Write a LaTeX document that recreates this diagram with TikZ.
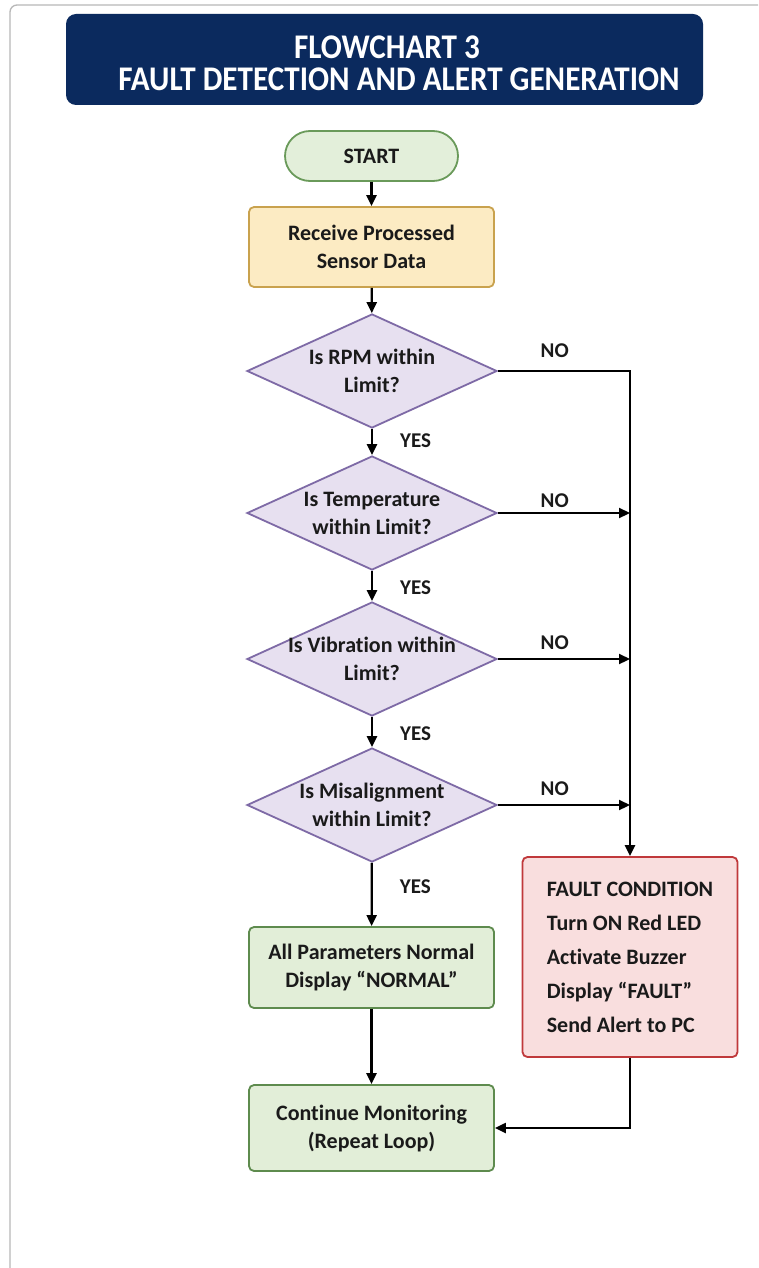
\documentclass[tikz,border=0pt]{standalone}
\usepackage{fontspec}
\setmainfont{Carlito}[Ligatures=NoCommon]
\newfontfamily\titlefont[FakeStretch=0.9]{Carlito}
\usetikzlibrary{shapes.geometric,arrows.meta}
\definecolor{navy}{HTML}{0B2A5E}
\definecolor{startfill}{HTML}{E3EFDA}
\definecolor{startdraw}{HTML}{6A9A5A}
\definecolor{yelfill}{HTML}{FCEBC3}
\definecolor{yeldraw}{HTML}{C9A24E}
\definecolor{lavfill}{HTML}{E7E0F0}
\definecolor{lavdraw}{HTML}{7E6AA6}
\definecolor{grnfill}{HTML}{E2EED8}
\definecolor{grndraw}{HTML}{5E8B4E}
\definecolor{pinkfill}{HTML}{F9DEDE}
\definecolor{pinkdraw}{HTML}{C0393B}
\definecolor{framegray}{HTML}{B8B8B8}
\definecolor{txt}{HTML}{1A1A1A}
\begin{document}
\begin{tikzpicture}[x=1pt,y=-1pt,
  body/.style={font=\bfseries\fontsize{22}{28}\selectfont, text=txt, align=center, inner sep=0pt},
  titlebox/.style={fill=navy, rounded corners=10pt, minimum width=637pt, minimum height=91pt, inner sep=0pt},
  titletext/.style={font=\titlefont\bfseries\fontsize{34.6}{35}\selectfont, text=white, inner sep=0pt},
  startst/.style={body, draw=startdraw, fill=startfill, line width=1.8pt, rounded corners=25pt, minimum width=173pt, minimum height=50pt},
  procbox/.style={body, line width=1.8pt, rounded corners=5pt, minimum width=245pt},
  decision/.style={body, diamond, aspect=2.2, inner xsep=-30pt, inner ysep=0pt, draw=lavdraw, fill=lavfill, line width=1.8pt, minimum width=250pt, minimum height=114pt},
  faultbox/.style={procbox, draw=pinkdraw, fill=pinkfill, align=left, minimum width=215pt, minimum height=200pt, font=\bfseries\fontsize{22}{34}\selectfont},
  arr/.style={draw=black, line width=2.2pt, -{Triangle[length=11pt,width=10pt]}},
  lbl/.style={font=\bfseries\fontsize{21}{22}\selectfont, text=txt, inner sep=0pt}
]
\useasboundingbox (0,0) rectangle (758,1268);
\clip (0,0) rectangle (758,1268);
\fill[white] (0,0) rectangle (758,1268);
\draw[framegray, line width=1.3pt, rounded corners=7pt] (10,5) rectangle (780,1300);

\node[titlebox] (title) at (384.5,59.5) {};
\node[titletext] (t1) at (387,47) {FLOWCHART 3};
\node[titletext] (t2) at (399,79) {FAULT DETECTION AND ALERT GENERATION};

\node[startst] (start) at (371.5,156) {START};
\node[procbox, draw=yeldraw, fill=yelfill, minimum height=80pt] (recv) at (371.5,247) {Receive Processed\\Sensor Data};
\node[decision] (d1) at (372,371) {Is RPM within\\Limit?};
\node[decision] (d2) at (372,513) {Is Temperature\\within Limit?};
\node[decision] (d3) at (372,659) {Is Vibration within\\Limit?};
\node[decision] (d4) at (372,805) {Is Misalignment\\within Limit?};
\node[procbox, draw=grndraw, fill=grnfill, minimum height=81pt] (normal) at (371.5,967.5) {All Parameters Normal\\Display “NORMAL”};
\node[procbox, draw=grndraw, fill=grnfill, minimum height=86pt] (cont) at (371.5,1128) {Continue Monitoring\\(Repeat Loop)};
\node[faultbox] (fault) at (630,957) {FAULT CONDITION\\Turn ON Red LED\\Activate Buzzer\\Display “FAULT”\\Send Alert to PC};

\draw[arr] (start) -- (recv);
\draw[arr] (recv) -- (d1);
\draw[arr] (d1) -- node[lbl, pos=0.45, right=27pt] {YES} (d2);
\draw[arr] (d2) -- node[lbl, pos=0.55, right=27pt] {YES} (d3);
\draw[arr] (d3) -- node[lbl, pos=0.55, right=27pt] {YES} (d4);
\draw[arr] (d4) -- node[lbl, pos=0.37, right=27pt] {YES} (normal);
\draw[arr] (normal) -- (cont);

\draw[arr] (d1.east) -- node[lbl, pos=0.43, above=12pt] {NO} (d1.east -| fault.north) -- (fault.north);
\draw[arr] (d2.east) -- node[lbl, pos=0.43, above=4pt] {NO} (d2.east -| fault.north);
\draw[arr] (d3.east) -- node[lbl, pos=0.43, above=8pt] {NO} (d3.east -| fault.north);
\draw[arr] (d4.east) -- node[lbl, pos=0.43, above=8pt] {NO} (d4.east -| fault.north);
\draw[arr] (fault.south) |- (cont.east);
\end{tikzpicture}
\end{document}
